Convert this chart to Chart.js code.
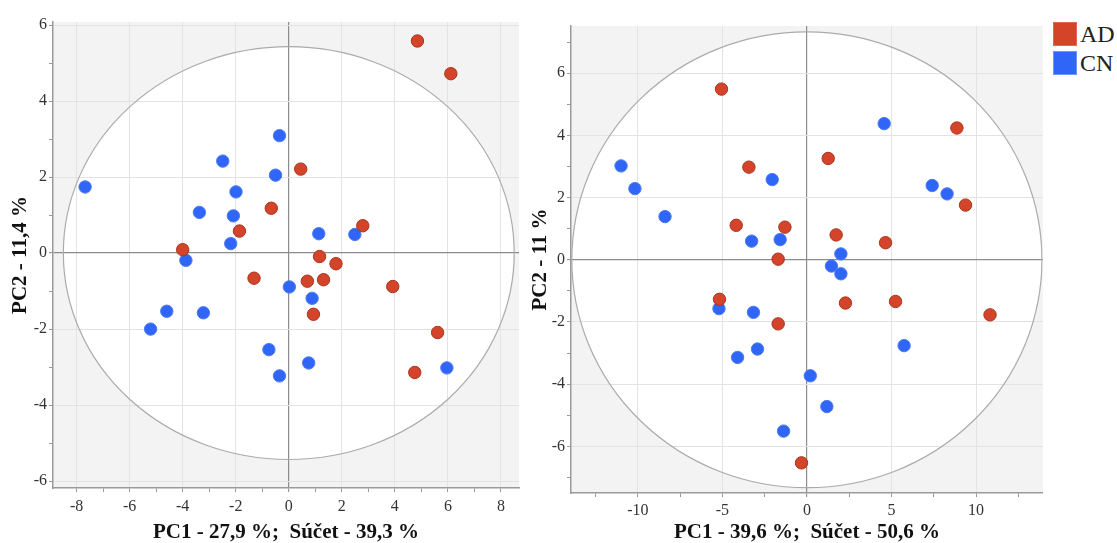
<!DOCTYPE html>
<html>
<head>
<meta charset="utf-8">
<script src="https://cdn.jsdelivr.net/npm/chart.js@4/dist/chart.umd.min.js"></script>
<style>
  html, body { margin: 0; padding: 0; background: #fff; width: 1117px; height: 543px; overflow: hidden; }
  #c1 { position: absolute; left: 0; top: 0; }
  #c2 { position: absolute; left: 530px; top: 0; }
  .leg { position: absolute; left: 1053px; font-family: "Liberation Serif", serif; font-size: 24px; color: #222; line-height: 24px; }
  .leg span.sw { display: inline-block; width: 22px; height: 22px; vertical-align: top; margin-right: 3px; border: 1px solid; }
</style>
</head>
<body>
<canvas id="c1" width="530" height="543"></canvas>
<canvas id="c2" width="520" height="543"></canvas>
<div class="leg" style="top:22px"><span class="sw" style="background:#d4442a;border-color:#e06a50"></span>AD</div>
<div class="leg" style="top:51px"><span class="sw" style="background:#2f66f8;border-color:#6f95f8"></span>CN</div>
<script>
// ---- Data ----
const seriesNames = ['AD', 'CN'];

// Left PCA (PC1 27,9 %, PC2 11,4 %)
const leftAD = [[-0.66,1.18],[-1.86,0.58],[-4.0,0.09],[-1.31,-0.66],[4.85,5.58],[6.11,4.72],[0.45,2.21],[2.79,0.72],[1.16,-0.09],[1.78,-0.28],[0.7,-0.74],[1.31,-0.7],[0.93,-1.61],[3.92,-0.88],[5.61,-2.09],[4.75,-3.14]];
const leftCN = [[-7.68,1.74],[-2.49,2.42],[-1.99,1.61],[-3.37,1.07],[-2.09,0.98],[-2.19,0.25],[-3.88,-0.19],[-0.35,3.09],[-0.5,2.05],[1.13,0.51],[2.49,0.49],[-4.6,-1.53],[-3.22,-1.57],[-5.21,-2.0],[-0.75,-2.54],[-0.35,-3.23],[0.02,-0.89],[0.88,-1.19],[0.75,-2.89],[5.96,-3.02]];

// Right PCA (PC1 39,6 %, PC2 11 %)
const rightAD = [[-5.05,5.49],[-3.43,2.98],[-4.18,1.11],[-1.3,1.05],[-1.7,0.02],[1.26,3.26],[8.87,4.24],[9.38,1.76],[1.73,0.8],[4.65,0.55],[-5.17,-1.27],[-1.7,-2.06],[-0.32,-6.53],[2.28,-1.39],[5.24,-1.34],[10.83,-1.77]];
const rightCN = [[-10.99,3.02],[-10.17,2.29],[-8.39,1.39],[-2.05,2.58],[-3.27,0.6],[-1.58,0.65],[4.57,4.38],[7.41,2.39],[8.29,2.12],[2.01,0.19],[1.45,-0.2],[2.01,-0.45],[-5.2,-1.57],[-3.16,-1.69],[-2.92,-2.87],[-4.1,-3.14],[0.2,-3.73],[1.18,-4.72],[-1.38,-5.51],[5.75,-2.76]];

// Hotelling ellipse semi-axes (data units)
const leftEllipse = [8.5, 5.43];
const rightEllipse = [13.9, 7.33];

// Axis ranges
const leftXRange = [-8.89, 8.68];
const leftYRange = [-6.18, 6.08];
const rightXRange = [-13.95, 13.95];
const rightYRange = [-7.5, 7.52];

// Tick values
const leftXMajor = [-8,-6,-4,-2,0,2,4,6,8];
const leftXMinor = [-7,-5,-3,-1,1,3,5,7];
const leftYMajor = [-6,-4,-2,0,2,4,6];
const leftYMinor = [-5,-3,-1,1,3,5];
const rightXMajor = [-10,-5,0,5,10];
const rightXMinor = [-12.5,-7.5,-2.5,2.5,7.5,12.5];
const rightYMajor = [-6,-4,-2,0,2,4,6];
const rightYMinor = [-7,-5,-3,-1,1,3,5,7];

// Titles
const leftXTitle = 'PC1 - 27,9 %;  Súčet - 39,3 %';
const leftYTitle = 'PC2 - 11,4 %';
const rightXTitle = 'PC1 - 39,6 %;  Súčet - 50,6 %';
const rightYTitle = 'PC2 - 11 %';

// ---- Styles ----
const RED = '#d4442a', RED_B = '#a9351d';
const BLUE = '#2f66f8', BLUE_B = '#4f7cf0';
const SERIF = '"Liberation Serif", "Times New Roman", serif';

const toPts = arr => arr.map(p => ({x: p[0], y: p[1]}));

const ellipsePlugin = {
  id: 'pcaEllipse',
  beforeDraw(chart, args, opts) {
    const {ctx, chartArea: a, scales} = chart;
    const cx = scales.x.getPixelForValue(0), cy = scales.y.getPixelForValue(0);
    const rx = Math.abs(scales.x.getPixelForValue(opts.rx) - cx);
    const ry = Math.abs(scales.y.getPixelForValue(opts.ry) - cy);
    ctx.save();
    ctx.fillStyle = '#f3f3f3';
    ctx.fillRect(a.left, a.top, a.right - a.left, a.bottom - a.top);
    ctx.beginPath();
    ctx.rect(a.left, a.top, a.right - a.left, a.bottom - a.top);
    ctx.clip();
    ctx.beginPath();
    ctx.ellipse(cx, cy, rx, ry, 0, 0, Math.PI * 2);
    ctx.fillStyle = '#ffffff';
    ctx.fill();
    ctx.restore();
  },
  beforeDatasetsDraw(chart, args, opts) {
    const {ctx, chartArea: a, scales} = chart;
    const cx = scales.x.getPixelForValue(0), cy = scales.y.getPixelForValue(0);
    const rx = Math.abs(scales.x.getPixelForValue(opts.rx) - cx);
    const ry = Math.abs(scales.y.getPixelForValue(opts.ry) - cy);
    ctx.save();
    ctx.beginPath();
    ctx.rect(a.left, a.top, a.right - a.left, a.bottom - a.top);
    ctx.clip();
    ctx.beginPath();
    ctx.ellipse(cx, cy, rx, ry, 0, 0, Math.PI * 2);
    ctx.strokeStyle = '#ababab';
    ctx.lineWidth = 1.2;
    ctx.stroke();
    ctx.restore();
  }
};

function axis(range, major, minor, title, fixed, horizontal, titlePad, tickPad) {
  const all = major.concat(minor).sort((a, b) => a - b);
  return {
    type: 'linear',
    position: horizontal ? 'bottom' : 'left',
    min: range[0], max: range[1],
    bounds: 'data',
    afterBuildTicks: s => { s.ticks = all.map(v => ({value: v})); },
    afterFit: s => { if (horizontal) s.height = fixed; else s.width = fixed; },
    grid: {
      color: c => (c.tick && c.tick.value === 0) ? '#8c8c8c' : (c.tick && major.includes(c.tick.value) ? '#e3e3e3' : 'rgba(0,0,0,0)'),
      lineWidth: c => (c.tick && c.tick.value === 0) ? 1.2 : 1,
      tickColor: '#999',
      tickLength: 4,
      drawTicks: true
    },
    border: { display: true, color: '#9a9a9a', width: 1.5 },
    ticks: {
      autoSkip: false,
      maxRotation: 0,
      padding: tickPad,
      color: '#333',
      font: { family: SERIF, size: 16 },
      callback: v => major.includes(v) ? String(v) : ''
    },
    title: {
      display: true,
      text: title,
      color: '#111',
      padding: { top: titlePad, bottom: 0 },
      font: { family: SERIF, size: 21, weight: 'bold', lineHeight: 1 }
    }
  };
}

function makeChart(id, ad, cn, xr, yr, xMaj, xMin, yMaj, yMin, xt, yt, ell, yW, xH, pad, xTitlePad, yTitlePad, xTickPad) {
  return new Chart(document.getElementById(id), {
    type: 'scatter',
    data: {
      datasets: [
        { label: seriesNames[0], data: toPts(ad), backgroundColor: RED, borderColor: RED_B, borderWidth: 1, pointRadius: 6.2, pointHoverRadius: 6.2 },
        { label: seriesNames[1], data: toPts(cn), backgroundColor: BLUE, borderColor: BLUE_B, borderWidth: 1, pointRadius: 6.2, pointHoverRadius: 6.2 }
      ]
    },
    options: {
      responsive: false,
      animation: false,
      layout: { padding: pad },
      plugins: { legend: { display: false }, tooltip: { enabled: false }, pcaEllipse: { rx: ell[0], ry: ell[1] } },
      scales: {
        x: axis(xr, xMaj, xMin, xt, xH, true, xTitlePad, xTickPad),
        y: axis(yr, yMaj, yMin, yt, yW, false, yTitlePad, 2)
      }
    },
    plugins: [ellipsePlugin]
  });
}

makeChart('c1', leftAD, leftCN, leftXRange, leftYRange, leftXMajor, leftXMinor, leftYMajor, leftYMinor,
  leftXTitle, leftYTitle, leftEllipse, 53, 55, { top: 22, right: 11, left: 0, bottom: 0 }, 8, 10, 5);
makeChart('c2', rightAD, rightCN, rightXRange, rightYRange, rightXMajor, rightXMinor, rightYMajor, rightYMinor,
  rightXTitle, rightYTitle, rightEllipse, 41, 50, { top: 26, right: 7, left: 0, bottom: 0 }, 0, 0, 4);
</script>
</body>
</html>
